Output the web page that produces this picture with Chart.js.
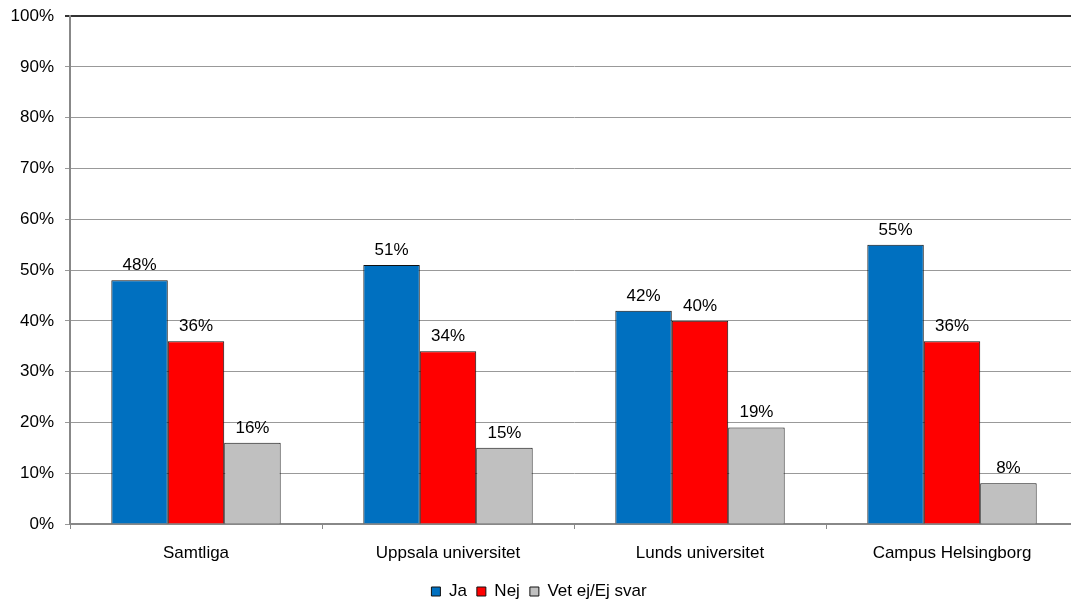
<!DOCTYPE html>
<html>
<head>
<meta charset="utf-8">
<script src="https://cdn.jsdelivr.net/npm/chart.js@4/dist/chart.umd.min.js"></script>
<style>
html,body{margin:0;padding:0;background:#fff;overflow:hidden;width:1071px;height:601px;}
#c{display:block;}
</style>
</head>
<body>
<canvas id="c" width="1078" height="610"></canvas>
<script>
const categories = ["Samtliga", "Uppsala universitet", "Lunds universitet", "Campus Helsingborg"];
const jaValues = [48, 51, 42, 55];
const nejValues = [36, 34, 40, 36];
const vetValues = [16, 15, 19, 8];
const seriesNames = ["Ja", "Nej", "Vet ej/Ej svar"];
const yTicks = [0, 10, 20, 30, 40, 50, 60, 70, 80, 90, 100];

const FONT = "'Liberation Sans', Arial, sans-serif";

const labelPlugin = {
  id: 'barLabels',
  afterDatasetsDraw(chart) {
    const ctx = chart.ctx;
    ctx.save();
    ctx.font = "17px " + FONT;
    ctx.fillStyle = "#000";
    ctx.textAlign = "center";
    ctx.textBaseline = "alphabetic";
    chart.data.datasets.forEach((ds, i) => {
      const meta = chart.getDatasetMeta(i);
      meta.data.forEach((bar, j) => {
        ctx.fillText(ds.data[j] + "%", bar.x, bar.y - 10);
      });
    });
    ctx.restore();
  }
};

new Chart(document.getElementById('c'), {
  type: 'bar',
  data: {
    labels: categories,
    datasets: [
      {label: seriesNames[0], data: jaValues, backgroundColor: '#0070C0', borderColor: '#111', borderWidth: 1},
      {label: seriesNames[1], data: nejValues, backgroundColor: '#FF0000', borderColor: '#111', borderWidth: 1},
      {label: seriesNames[2], data: vetValues, backgroundColor: '#C0C0C0', borderColor: '#111', borderWidth: 1}
    ]
  },
  options: {
    responsive: false,
    animation: false,
    devicePixelRatio: 1,
    layout: {padding: {top: 16, right: 0, left: 0, bottom: 0}},
    datasets: {bar: {categoryPercentage: 0.672, barPercentage: 1.0}},
    plugins: {
      tooltip: {enabled: false},
      legend: {
        position: 'bottom',
        labels: {
          font: {family: FONT, size: 17},
          color: '#000',
          boxWidth: 9,
          boxHeight: 9,
          padding: 10,
          useBorderRadius: false
        }
      }
    },
    scales: {
      x: {
        ticks: {font: {family: FONT, size: 17}, color: '#000', padding: 14},
        grid: {offset: true, drawOnChartArea: false, drawTicks: true, tickLength: 5, color: '#888'},
        border: {color: '#888', width: 2},
        afterFit(scale) { scale.height = 49; }
      },
      y: {
        min: 0, max: 100,
        afterBuildTicks(scale) { scale.ticks = yTicks.map(v => ({value: v})); },
        ticks: {font: {family: FONT, size: 17, lineHeight: 0.6}, color: '#000', padding: 11, callback: v => v + '%'},
        grid: {
          color: ctx => (ctx.tick && ctx.tick.value === 100) ? '#333' : '#999',
          lineWidth: ctx => (ctx.tick && ctx.tick.value === 100) ? 2 : 1,
          tickLength: 5
        },
        border: {color: '#888', width: 2},
        afterFit(scale) { scale.width = 70; }
      }
    }
  },
  plugins: [labelPlugin]
});
</script>
</body>
</html>
